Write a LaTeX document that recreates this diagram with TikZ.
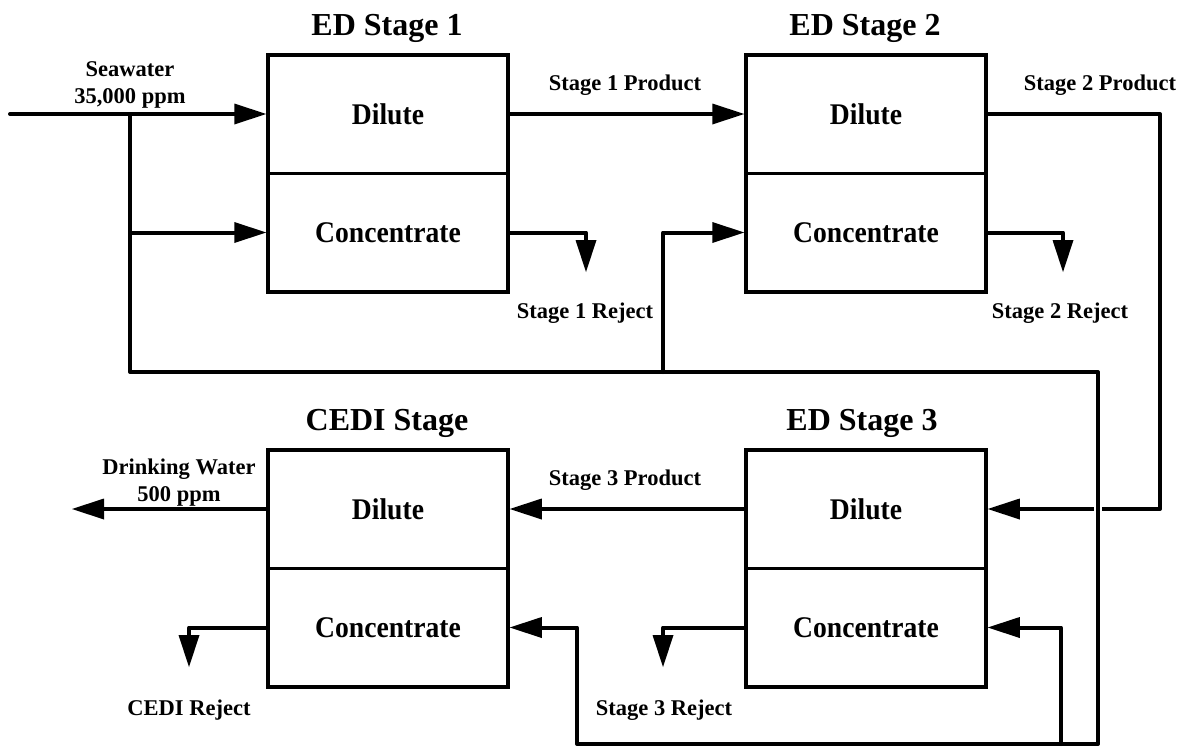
\documentclass[tikz,border=0pt]{standalone}
\usepackage{fontspec}
\setmainfont{Liberation Serif}
\newfontfamily\condfont[FakeStretch=0.92]{Liberation Serif}
\usetikzlibrary{arrows.meta}
\begin{document}
\begin{tikzpicture}[x=1pt,y=-1pt,
  cell/.style={draw, line width=3.5pt, minimum width=240pt, minimum height=118.5pt, inner sep=0pt,
    font={\condfont\bfseries\fontsize{30}{34}\selectfont}},
  title/.style={font={\bfseries\fontsize{32}{36}\selectfont}, anchor=base, inner sep=0pt},
  lbl/.style={font={\bfseries\fontsize{22.5}{27}\selectfont}, anchor=base, inner sep=0pt},
  arr/.style={line width=4pt, line cap=round, line join=round, -{Triangle[length=32pt,width=21pt,line width=0pt]}}
]
\useasboundingbox (0,0) rectangle (1184,747);

% boxes
\node[cell] (d1) at (388,114) {Dilute};
\node[cell] (c1) at (388,232.5) {Concentrate};
\node[cell] (d2) at (866,114) {Dilute};
\node[cell] (c2) at (866,232.5) {Concentrate};
\node[cell] (d4) at (388,509) {Dilute};
\node[cell] (c4) at (388,627.5) {Concentrate};
\node[cell] (d3) at (866,509) {Dilute};
\node[cell] (c3) at (866,627.5) {Concentrate};

% titles
\node[title] (t1) at (387,35) {ED Stage 1};
\node[title] (t2) at (865,35) {ED Stage 2};
\node[title] (t4) at (387,430) {CEDI Stage};
\node[title] (t3) at (862,430) {ED Stage 3};

% coordinates
\coordinate (sw) at (10,114);
\coordinate (j1) at (130,114);
\coordinate (j2) at (130,232.5);
\coordinate (k1) at (130,372);
\coordinate (k2) at (1098,372);
\coordinate (k3) at (1098,744);
\coordinate (k4) at (577,744);
\coordinate (j3) at (663,372);
\coordinate (j4) at (1061,744);
\coordinate (p2) at (1160,300);
\coordinate (r1) at (586,272);
\coordinate (r2) at (1063,272);
\coordinate (r3) at (663,667);
\coordinate (rc) at (189,667);
\coordinate (dw) at (72,509);

% connectors
\draw[arr] (d2.east) -| (p2) |- (d3.east);
\draw[arr, preaction={draw=white, line width=8pt, -}] (j1) -- (k1) -- (k2) -- (k3) -- (k4) |- (c4.east);
\draw[arr] (sw) -- (d1.west);
\draw[arr] (j2) -- (c1.west);
\draw[arr] (j3) |- (c2.west);
\draw[arr] (j4) |- (c3.east);
\draw[arr] (d1.east) -- (d2.west);
\draw[arr] (c1.east) -| (r1);
\draw[arr] (c2.east) -| (r2);
\draw[arr] (d3.west) -- (d4.east);
\draw[arr] (c3.west) -| (r3);
\draw[arr] (d4.west) -- (dw);
\draw[arr] (c4.west) -| (rc);

% labels
\node[lbl, anchor=south, align=center] (lsw) at (130,108) {Seawater\\35,000 ppm};
\node[lbl] (l1p) at (625,90) {Stage 1 Product};
\node[lbl] (l2p) at (1100,90) {Stage 2 Product};
\node[lbl] (l1r) at (585,318) {Stage 1 Reject};
\node[lbl] (l2r) at (1060,318) {Stage 2 Reject};
\node[lbl] (l3p) at (625,485) {Stage 3 Product};
\node[lbl] (l3r) at (664,715) {Stage 3 Reject};
\node[lbl] (lcr) at (189,715) {CEDI Reject};
\node[lbl, anchor=south, align=center] (ldw) at (179,506) {Drinking Water\\500 ppm};
\end{tikzpicture}
\end{document}
